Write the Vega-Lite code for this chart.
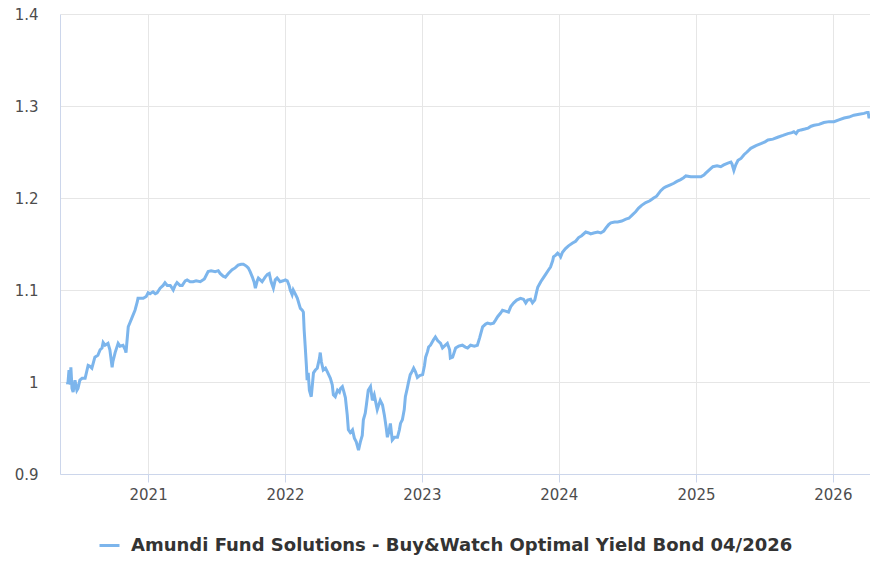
{
  "$schema": "https://vega.github.io/schema/vega-lite/v6.json",
  "width": 810,
  "height": 460,
  "autosize": {"type": "none"},
  "padding": {"left": 60, "top": 14, "right": 0, "bottom": 87},
  "background": "#ffffff",
  "config": {
    "view": {"stroke": null},
    "font": "DejaVu Sans"
  },
  "data": {
    "values": [
      {"d":"2020-05-30","v":1.000},{"d":"2020-06-01","v":0.998},{"d":"2020-06-04","v":1.013},{"d":"2020-06-07","v":0.997},
      {"d":"2020-06-09","v":1.016},{"d":"2020-06-12","v":0.993},{"d":"2020-06-15","v":0.989},{"d":"2020-06-20","v":1.002},
      {"d":"2020-06-25","v":0.991},{"d":"2020-06-28","v":0.993},{"d":"2020-07-03","v":1.002},{"d":"2020-07-09","v":1.004},
      {"d":"2020-07-17","v":1.004},{"d":"2020-07-25","v":1.018},{"d":"2020-07-30","v":1.017},{"d":"2020-08-04","v":1.015},
      {"d":"2020-08-12","v":1.027},{"d":"2020-08-20","v":1.029},{"d":"2020-08-26","v":1.035},{"d":"2020-08-31","v":1.037},
      {"d":"2020-09-03","v":1.043},{"d":"2020-09-08","v":1.040},{"d":"2020-09-16","v":1.042},{"d":"2020-09-21","v":1.035},
      {"d":"2020-09-27","v":1.016},{"d":"2020-09-29","v":1.022},{"d":"2020-10-05","v":1.032},{"d":"2020-10-13","v":1.042},
      {"d":"2020-10-18","v":1.039},{"d":"2020-10-26","v":1.040},{"d":"2020-11-01","v":1.035},{"d":"2020-11-03","v":1.032},
      {"d":"2020-11-09","v":1.060},{"d":"2020-11-14","v":1.065},{"d":"2020-11-19","v":1.070},{"d":"2020-11-27","v":1.078},
      {"d":"2020-12-03","v":1.087},{"d":"2020-12-05","v":1.091},{"d":"2020-12-11","v":1.091},{"d":"2020-12-19","v":1.091},
      {"d":"2020-12-27","v":1.093},{"d":"2021-01-01","v":1.097},{"d":"2021-01-06","v":1.096},{"d":"2021-01-14","v":1.098},
      {"d":"2021-01-20","v":1.096},{"d":"2021-01-25","v":1.097},{"d":"2021-02-02","v":1.102},{"d":"2021-02-10","v":1.105},
      {"d":"2021-02-15","v":1.108},{"d":"2021-02-21","v":1.105},{"d":"2021-03-01","v":1.105},{"d":"2021-03-06","v":1.102},
      {"d":"2021-03-09","v":1.100},{"d":"2021-03-14","v":1.105},{"d":"2021-03-19","v":1.108},{"d":"2021-03-27","v":1.105},
      {"d":"2021-04-02","v":1.105},{"d":"2021-04-10","v":1.110},{"d":"2021-04-15","v":1.111},{"d":"2021-04-23","v":1.109},
      {"d":"2021-05-01","v":1.109},{"d":"2021-05-09","v":1.110},{"d":"2021-05-20","v":1.109},{"d":"2021-05-31","v":1.112},
      {"d":"2021-06-10","v":1.120},{"d":"2021-06-18","v":1.121},{"d":"2021-06-29","v":1.120},{"d":"2021-07-07","v":1.121},
      {"d":"2021-07-12","v":1.118},{"d":"2021-07-20","v":1.115},{"d":"2021-07-26","v":1.114},{"d":"2021-08-03","v":1.118},
      {"d":"2021-08-13","v":1.122},{"d":"2021-08-21","v":1.124},{"d":"2021-08-29","v":1.127},{"d":"2021-09-06","v":1.128},
      {"d":"2021-09-12","v":1.128},{"d":"2021-09-20","v":1.126},{"d":"2021-09-25","v":1.124},{"d":"2021-09-30","v":1.120},
      {"d":"2021-10-06","v":1.114},{"d":"2021-10-11","v":1.108},{"d":"2021-10-14","v":1.102},{"d":"2021-10-19","v":1.110},
      {"d":"2021-10-22","v":1.113},{"d":"2021-10-27","v":1.111},{"d":"2021-11-01","v":1.109},{"d":"2021-11-09","v":1.114},
      {"d":"2021-11-15","v":1.117},{"d":"2021-11-20","v":1.118},{"d":"2021-11-25","v":1.109},{"d":"2021-12-01","v":1.102},
      {"d":"2021-12-06","v":1.111},{"d":"2021-12-11","v":1.113},{"d":"2021-12-19","v":1.109},{"d":"2021-12-27","v":1.110},
      {"d":"2022-01-02","v":1.111},{"d":"2022-01-07","v":1.110},{"d":"2022-01-12","v":1.105},{"d":"2022-01-15","v":1.100},
      {"d":"2022-01-20","v":1.095},{"d":"2022-01-23","v":1.100},{"d":"2022-01-28","v":1.096},{"d":"2022-02-03","v":1.091},
      {"d":"2022-02-08","v":1.084},{"d":"2022-02-11","v":1.080},{"d":"2022-02-16","v":1.078},{"d":"2022-02-19","v":1.076},
      {"d":"2022-02-21","v":1.057},{"d":"2022-02-24","v":1.038},{"d":"2022-02-27","v":1.018},{"d":"2022-03-01","v":1.002},
      {"d":"2022-03-04","v":1.010},{"d":"2022-03-07","v":0.991},{"d":"2022-03-12","v":0.984},{"d":"2022-03-15","v":0.997},
      {"d":"2022-03-18","v":1.010},{"d":"2022-03-23","v":1.013},{"d":"2022-03-28","v":1.015},{"d":"2022-04-03","v":1.026},
      {"d":"2022-04-05","v":1.032},{"d":"2022-04-08","v":1.022},{"d":"2022-04-13","v":1.013},{"d":"2022-04-19","v":1.015},
      {"d":"2022-04-24","v":1.011},{"d":"2022-05-02","v":1.004},{"d":"2022-05-07","v":0.997},{"d":"2022-05-10","v":0.986},
      {"d":"2022-05-15","v":0.984},{"d":"2022-05-21","v":0.991},{"d":"2022-05-26","v":0.989},{"d":"2022-05-29","v":0.993},
      {"d":"2022-06-03","v":0.995},{"d":"2022-06-06","v":0.991},{"d":"2022-06-11","v":0.983},{"d":"2022-06-16","v":0.964},
      {"d":"2022-06-19","v":0.948},{"d":"2022-06-24","v":0.945},{"d":"2022-06-30","v":0.948},{"d":"2022-07-05","v":0.939},
      {"d":"2022-07-10","v":0.935},{"d":"2022-07-16","v":0.926},{"d":"2022-07-21","v":0.935},{"d":"2022-07-26","v":0.942},
      {"d":"2022-07-29","v":0.959},{"d":"2022-08-03","v":0.966},{"d":"2022-08-06","v":0.975},{"d":"2022-08-11","v":0.991},
      {"d":"2022-08-17","v":0.995},{"d":"2022-08-22","v":0.980},{"d":"2022-08-27","v":0.986},{"d":"2022-09-04","v":0.970},
      {"d":"2022-09-12","v":0.980},{"d":"2022-09-18","v":0.975},{"d":"2022-09-23","v":0.964},{"d":"2022-09-28","v":0.950},
      {"d":"2022-10-01","v":0.940},{"d":"2022-10-06","v":0.948},{"d":"2022-10-09","v":0.955},{"d":"2022-10-14","v":0.937},
      {"d":"2022-10-20","v":0.940},{"d":"2022-10-28","v":0.940},{"d":"2022-11-02","v":0.948},{"d":"2022-11-05","v":0.955},
      {"d":"2022-11-10","v":0.959},{"d":"2022-11-15","v":0.970},{"d":"2022-11-18","v":0.984},{"d":"2022-11-23","v":0.993},
      {"d":"2022-11-26","v":0.999},{"d":"2022-12-01","v":1.008},{"d":"2022-12-04","v":1.010},{"d":"2022-12-10","v":1.015},
      {"d":"2022-12-15","v":1.011},{"d":"2022-12-20","v":1.005},{"d":"2022-12-26","v":1.007},{"d":"2023-01-03","v":1.008},
      {"d":"2023-01-08","v":1.018},{"d":"2023-01-11","v":1.027},{"d":"2023-01-16","v":1.033},{"d":"2023-01-19","v":1.038},
      {"d":"2023-01-24","v":1.040},{"d":"2023-02-01","v":1.046},{"d":"2023-02-06","v":1.049},{"d":"2023-02-12","v":1.045},
      {"d":"2023-02-20","v":1.042},{"d":"2023-02-25","v":1.037},{"d":"2023-03-02","v":1.039},{"d":"2023-03-10","v":1.042},
      {"d":"2023-03-16","v":1.035},{"d":"2023-03-18","v":1.026},{"d":"2023-03-24","v":1.027},{"d":"2023-04-01","v":1.037},
      {"d":"2023-04-09","v":1.039},{"d":"2023-04-19","v":1.040},{"d":"2023-04-27","v":1.038},{"d":"2023-05-03","v":1.037},
      {"d":"2023-05-11","v":1.040},{"d":"2023-05-21","v":1.039},{"d":"2023-05-29","v":1.040},{"d":"2023-06-04","v":1.048},
      {"d":"2023-06-12","v":1.060},{"d":"2023-06-20","v":1.063},{"d":"2023-06-25","v":1.064},{"d":"2023-07-03","v":1.063},
      {"d":"2023-07-11","v":1.064},{"d":"2023-07-16","v":1.067},{"d":"2023-07-22","v":1.071},{"d":"2023-07-30","v":1.075},
      {"d":"2023-08-04","v":1.078},{"d":"2023-08-12","v":1.077},{"d":"2023-08-20","v":1.076},{"d":"2023-08-26","v":1.082},
      {"d":"2023-09-03","v":1.086},{"d":"2023-09-11","v":1.089},{"d":"2023-09-21","v":1.091},{"d":"2023-09-29","v":1.090},
      {"d":"2023-10-05","v":1.086},{"d":"2023-10-10","v":1.089},{"d":"2023-10-18","v":1.090},{"d":"2023-10-23","v":1.086},
      {"d":"2023-10-29","v":1.089},{"d":"2023-11-03","v":1.098},{"d":"2023-11-06","v":1.103},{"d":"2023-11-14","v":1.109},
      {"d":"2023-11-19","v":1.112},{"d":"2023-11-27","v":1.117},{"d":"2023-12-05","v":1.122},{"d":"2023-12-10","v":1.125},
      {"d":"2023-12-16","v":1.132},{"d":"2023-12-18","v":1.136},{"d":"2023-12-24","v":1.138},{"d":"2023-12-29","v":1.140},
      {"d":"2024-01-03","v":1.138},{"d":"2024-01-06","v":1.136},{"d":"2024-01-11","v":1.141},{"d":"2024-01-19","v":1.145},
      {"d":"2024-01-27","v":1.148},{"d":"2024-02-07","v":1.151},{"d":"2024-02-15","v":1.153},{"d":"2024-02-23","v":1.157},
      {"d":"2024-03-02","v":1.159},{"d":"2024-03-13","v":1.163},{"d":"2024-03-21","v":1.162},{"d":"2024-03-26","v":1.161},
      {"d":"2024-04-03","v":1.162},{"d":"2024-04-14","v":1.163},{"d":"2024-04-22","v":1.162},{"d":"2024-04-30","v":1.164},
      {"d":"2024-05-05","v":1.167},{"d":"2024-05-13","v":1.171},{"d":"2024-05-19","v":1.173},{"d":"2024-05-29","v":1.174},
      {"d":"2024-06-06","v":1.174},{"d":"2024-06-17","v":1.175},{"d":"2024-06-28","v":1.177},{"d":"2024-07-06","v":1.178},
      {"d":"2024-07-16","v":1.182},{"d":"2024-07-24","v":1.185},{"d":"2024-08-01","v":1.189},{"d":"2024-08-09","v":1.192},
      {"d":"2024-08-20","v":1.195},{"d":"2024-08-31","v":1.197},{"d":"2024-09-10","v":1.200},{"d":"2024-09-18","v":1.202},
      {"d":"2024-09-29","v":1.208},{"d":"2024-10-07","v":1.211},{"d":"2024-10-12","v":1.212},{"d":"2024-10-23","v":1.214},
      {"d":"2024-11-03","v":1.216},{"d":"2024-11-11","v":1.218},{"d":"2024-11-21","v":1.220},{"d":"2024-11-29","v":1.222},
      {"d":"2024-12-05","v":1.224},{"d":"2024-12-18","v":1.223},{"d":"2024-12-31","v":1.223},{"d":"2025-01-14","v":1.223},
      {"d":"2025-01-22","v":1.225},{"d":"2025-01-27","v":1.227},{"d":"2025-02-04","v":1.230},{"d":"2025-02-15","v":1.234},
      {"d":"2025-02-26","v":1.235},{"d":"2025-03-08","v":1.234},{"d":"2025-03-16","v":1.236},{"d":"2025-03-27","v":1.238},
      {"d":"2025-04-04","v":1.239},{"d":"2025-04-07","v":1.237},{"d":"2025-04-12","v":1.230},{"d":"2025-04-17","v":1.236},
      {"d":"2025-04-23","v":1.241},{"d":"2025-05-01","v":1.243},{"d":"2025-05-09","v":1.247},{"d":"2025-05-17","v":1.250},
      {"d":"2025-05-27","v":1.254},{"d":"2025-06-10","v":1.257},{"d":"2025-06-23","v":1.259},{"d":"2025-07-04","v":1.261},
      {"d":"2025-07-12","v":1.263},{"d":"2025-07-25","v":1.264},{"d":"2025-08-07","v":1.266},{"d":"2025-08-21","v":1.268},
      {"d":"2025-09-03","v":1.270},{"d":"2025-09-14","v":1.271},{"d":"2025-09-19","v":1.272},{"d":"2025-09-25","v":1.270},
      {"d":"2025-09-30","v":1.273},{"d":"2025-10-08","v":1.274},{"d":"2025-10-18","v":1.275},{"d":"2025-10-27","v":1.276},
      {"d":"2025-11-04","v":1.278},{"d":"2025-11-12","v":1.279},{"d":"2025-11-25","v":1.280},{"d":"2025-12-08","v":1.282},
      {"d":"2025-12-22","v":1.283},{"d":"2026-01-04","v":1.283},{"d":"2026-01-17","v":1.285},{"d":"2026-01-31","v":1.287},
      {"d":"2026-02-13","v":1.288},{"d":"2026-02-26","v":1.290},{"d":"2026-03-12","v":1.291},{"d":"2026-03-25","v":1.292},
      {"d":"2026-04-02","v":1.293},{"d":"2026-04-05","v":1.293},{"d":"2026-04-07","v":1.288},{"d":"2026-04-10","v":1.288}
    ]
  },
  "mark": {"type": "line", "strokeWidth": 3, "interpolate": "linear", "clip": true},
  "encoding": {
    "x": {
      "field": "d",
      "type": "temporal",
      "scale": {
        "type": "utc",
        "domain": [
          {"year": 2020, "month": 5, "date": 11, "utc": true},
          {"year": 2026, "month": 4, "date": 10, "utc": true}
        ]
      },
      "axis": {
        "title": null,
        "format": "%Y",
        "tickCount": {"interval": "year", "step": 1},
        "grid": true,
        "gridColor": "#e6e6e6",
        "gridWidth": 1,
        "domainColor": "#ccd6eb",
        "domainWidth": 1,
        "tickColor": "#ccd6eb",
        "tickSize": 8,
        "labelFont": "DejaVu Sans",
        "labelFontSize": 15,
        "labelColor": "#4d4d4d",
        "labelPadding": 5
      }
    },
    "y": {
      "field": "v",
      "type": "quantitative",
      "scale": {"domain": [0.9, 1.4], "nice": false, "zero": false},
      "axis": {
        "title": null,
        "values": [0.9, 1.0, 1.1, 1.2, 1.3, 1.4],
        "format": ".1~f",
        "grid": true,
        "gridColor": "#e6e6e6",
        "gridWidth": 1,
        "domainColor": "#ccd6eb",
        "domainWidth": 1,
        "ticks": false,
        "labelFont": "DejaVu Sans",
        "labelFontSize": 15,
        "labelColor": "#4d4d4d",
        "labelPadding": 22
      }
    },
    "color": {
      "datum": "Amundi Fund Solutions - Buy&Watch Optimal Yield Bond 04/2026",
      "scale": {"range": ["#7cb5ec"]},
      "legend": {
        "title": null,
        "orient": "none",
        "legendX": 38,
        "legendY": 520,
        "symbolType": "stroke",
        "symbolStrokeWidth": 3,
        "symbolSize": 400,
        "labelFont": "DejaVu Sans",
        "labelFontSize": 18,
        "labelFontWeight": "bold",
        "labelColor": "#333333",
        "labelOffset": 10,
        "labelLimit": 900
      }
    }
  }
}
